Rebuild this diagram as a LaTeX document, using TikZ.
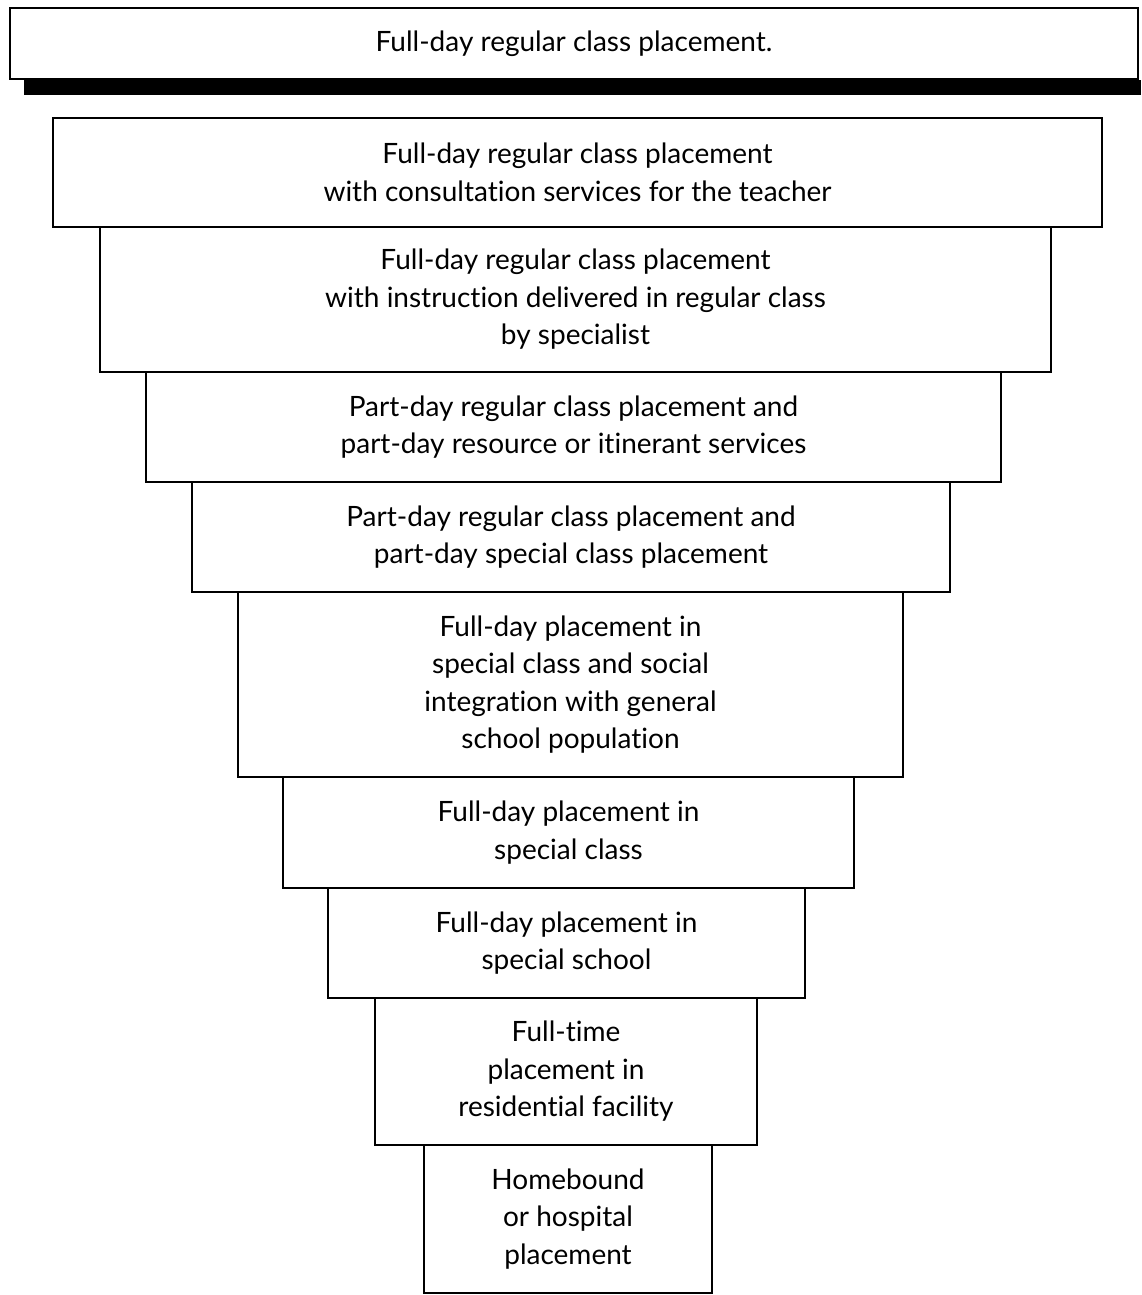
\documentclass[tikz,border=0pt]{standalone}
\usepackage{fontspec}
\setmainfont[Ligatures={NoCommon,NoRequired,NoContextual}]{Lato}
\begin{document}
\begin{tikzpicture}[x=1pt,y=-1pt,
  box/.style={draw, line width=2.2pt, rectangle, align=center, inner sep=0pt,
    font=\fontsize{28}{37.5}\selectfont}]
\useasboundingbox (0,0) rectangle (1141,1295);
\fill (24,80) rectangle (1141,95);
\node[box, minimum width=1128pt, minimum height=71pt] (b1) at (574,43.5) {Full-day regular class placement.};
\node[box, minimum width=1049pt, minimum height=109pt] (b2) at (577.5,172.5) {Full-day regular class placement\\with consultation services for the teacher};
\node[box, minimum width=951pt, minimum height=145pt] (b3) at (575.5,299.5) {Full-day regular class placement\\with instruction delivered in regular class\\by specialist};
\node[box, minimum width=855pt, minimum height=110pt] (b4) at (573.5,427) {Part-day regular class placement and\\part-day resource or itinerant services};
\node[box, minimum width=758pt, minimum height=110pt] (b5) at (571,537) {Part-day regular class placement and\\part-day special class placement};
\node[box, minimum width=665pt, minimum height=185pt] (b6) at (570.5,684.5) {Full-day placement in\\special class and social\\integration with general\\school population};
\node[box, minimum width=571pt, minimum height=111pt] (b7) at (568.5,832.5) {Full-day placement in\\special class};
\node[box, minimum width=477pt, minimum height=110pt] (b8) at (566.5,943) {Full-day placement in\\special school};
\node[box, minimum width=382pt, minimum height=147pt] (b9) at (566,1071.5) {Full-time\\placement in\\residential facility};
\node[box, minimum width=288pt, minimum height=148pt] (b10) at (568,1219) {Homebound\\or hospital\\placement};
\end{tikzpicture}
\end{document}
